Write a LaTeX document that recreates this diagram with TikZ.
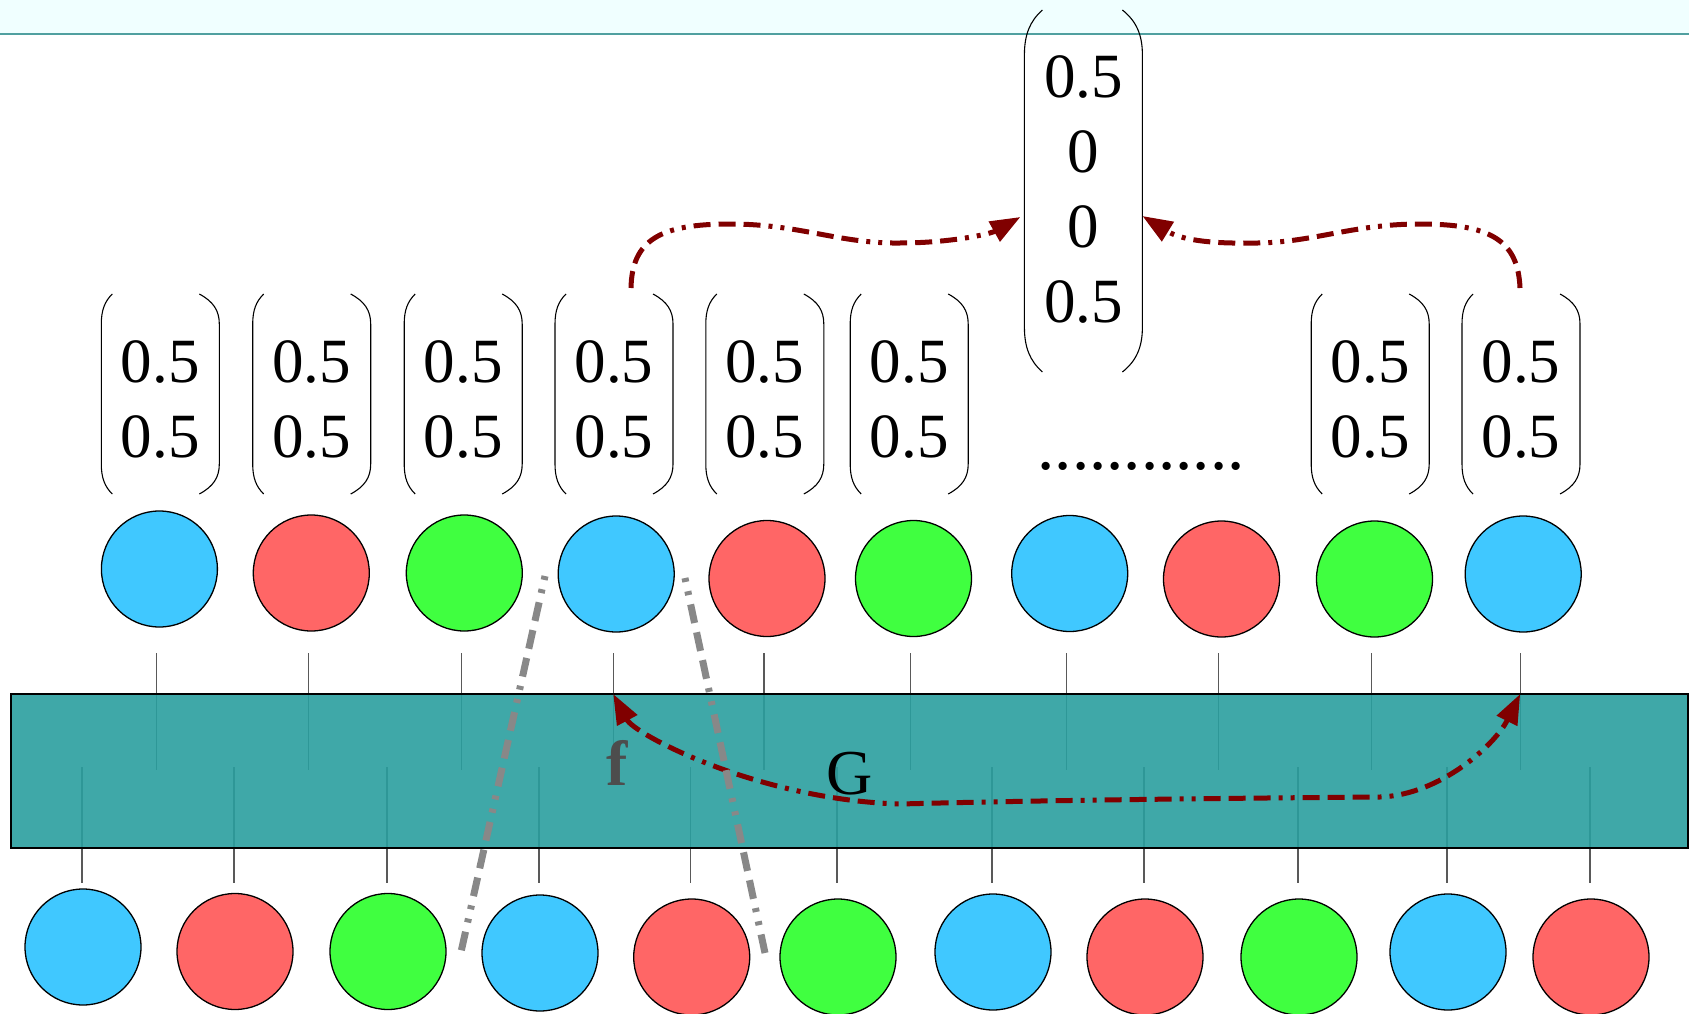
\documentclass[tikz,border=0pt]{standalone}
\usepackage{fontspec}
\setmainfont{Liberation Serif}
\usetikzlibrary{arrows.meta,calc}

\definecolor{cblue}{RGB}{64,200,255}
\definecolor{cred}{RGB}{255,102,102}
\definecolor{cgreen}{RGB}{64,255,64}
\definecolor{layerteal}{RGB}{42,158,158}
\definecolor{flowred}{RGB}{128,0,0}
\definecolor{crossgray}{RGB}{136,136,136}
\definecolor{bandfill}{RGB}{240,255,255}
\definecolor{bandline}{RGB}{80,160,160}
\definecolor{labgray}{RGB}{77,77,77}

\newcommand\numfont{\fontsize{63}{75}\selectfont}
\newcommand\labfont{\fontsize{64}{64}\selectfont}

% round brackets drawn along the left and right sides of a vector node
% #1 node, #2 left inset, #3 right inset, #4 height of the curved ends
\newcommand\bracketpair[4]{%
  \draw[paren] ($(#1.north west)+(#2,0)$)
      .. controls ($(#1.north west)+(0.3*#2,0.25*#4)$) and ($(#1.north west)+(0,0.55*#4)$) .. ($(#1.north west)+(0,#4)$)
      -- ($(#1.south west)+(0,-#4)$)
      .. controls ($(#1.south west)+(0,-0.55*#4)$) and ($(#1.south west)+(0.3*#2,-0.25*#4)$) .. ($(#1.south west)+(#2,0)$);
  \draw[paren] ($(#1.north east)+(-#3,0)$)
      .. controls ($(#1.north east)+(-0.3*#3,0.25*#4)$) and ($(#1.north east)+(0,0.55*#4)$) .. ($(#1.north east)+(0,#4)$)
      -- ($(#1.south east)+(0,-#4)$)
      .. controls ($(#1.south east)+(0,-0.55*#4)$) and ($(#1.south east)+(-0.3*#3,-0.25*#4)$) .. ($(#1.south east)+(-#3,0)$);
}

\tikzset{
  disc/.style={circle, draw=black, line width=1.3pt, minimum size=116pt, inner sep=0pt, outer sep=0pt},
  vecbox/.style={inner sep=0pt, outer sep=0pt, minimum width=118pt, align=center, font=\numfont},
  smallvec/.style={vecbox, minimum height=200pt, text height=127pt},
  paren/.style={line width=1.1pt, black},
  stub/.style={line width=1.3pt, black!65},
  flow/.style={draw=flowred, line width=5pt,
    dash pattern=on 17pt off 8pt on 17pt off 8pt on 17pt off 8pt on 4pt off 8pt on 4pt off 8pt},
  tip/.style={-{Triangle[length=30pt,width=22pt]}},
  tips/.style={{Triangle[length=30pt,width=22pt]}-{Triangle[length=30pt,width=22pt]}},
  cross/.style={draw=crossgray, line width=7pt,
    dash pattern=on 4pt off 9.5pt on 4pt off 9.5pt on 19pt off 9.5pt on 19pt off 9.5pt on 19pt off 9.5pt},
  layer/.style={rectangle, draw=black, line width=2pt, fill=layerteal, fill opacity=0.9,
    inner sep=0pt, outer sep=0pt, minimum width=1677pt, minimum height=154pt},
}

\begin{document}
\begin{tikzpicture}[x=1pt, y=-1pt]
\useasboundingbox (0,0) rectangle (1689,1014);

% header band
\fill[bandfill] (0,0) rectangle (1689,34);
\draw[bandline, line width=2pt] (0,34) -- (1689,34);

% upper row of discs
\node[disc, fill=cblue]  (t1)  at (159.4,569) {};
\node[disc, fill=cred]   (t2)  at (311.3,573) {};
\node[disc, fill=cgreen] (t3)  at (464.3,573) {};
\node[disc, fill=cblue]  (t4)  at (616.2,574) {};
\node[disc, fill=cred]   (t5)  at (767,578.5) {};
\node[disc, fill=cgreen] (t6)  at (913.5,578.5) {};
\node[disc, fill=cblue]  (t7)  at (1069.7,573.5) {};
\node[disc, fill=cred]   (t8)  at (1221.5,579) {};
\node[disc, fill=cgreen] (t9)  at (1374.5,579) {};
\node[disc, fill=cblue]  (t10) at (1523.2,574) {};

% lower row of discs
\node[disc, fill=cblue]  (b1)  at (83,947) {};
\node[disc, fill=cred]   (b2)  at (235,951.5) {};
\node[disc, fill=cgreen] (b3)  at (388,951.5) {};
\node[disc, fill=cblue]  (b4)  at (540,953) {};
\node[disc, fill=cred]   (b5)  at (691.7,957) {};
\node[disc, fill=cgreen] (b6)  at (838,957) {};
\node[disc, fill=cblue]  (b7)  at (993,952) {};
\node[disc, fill=cred]   (b8)  at (1145,957) {};
\node[disc, fill=cgreen] (b9)  at (1299,957) {};
\node[disc, fill=cblue]  (b10) at (1448,952) {};
\node[disc, fill=cred]   (b11) at (1591,957) {};

% two-entry vectors above the upper discs
\node[smallvec] (v1) at (160.3,394) {0.5\\0.5};
\node[smallvec] (v2) at (311.7,394) {0.5\\0.5};
\node[smallvec] (v3) at (463.2,394) {0.5\\0.5};
\node[smallvec] (v4) at (614,394)   {0.5\\0.5};
\node[smallvec] (v5) at (764.8,394) {0.5\\0.5};
\node[smallvec] (v6) at (909.2,394) {0.5\\0.5};
\node[smallvec] (v7) at (1370.2,394) {0.5\\0.5};
\node[smallvec] (v8) at (1521,394)  {0.5\\0.5};
\foreach \v in {v1,v2,v3,v4,v5,v6,v7,v8} {\bracketpair{\v}{11}{20}{30}}

\node[font=\fontsize{69}{69}\selectfont, anchor=base, inner sep=0pt] (dots) at (1141,469) {............};

% four-entry vector
\node[vecbox, minimum height=362pt, text height=264pt] (big) at (1083.4,191) {0.5\\0\\0\\0.5};
\bracketpair{big}{18}{20}{45}

% stubs reaching into the layer
\coordinate (upA) at (0,653);
\coordinate (upB) at (0,770);
\coordinate (loA) at (0,767);
\coordinate (loB) at (0,883);
\foreach \i in {1,...,10}
  \draw[stub] ($(t\i.center |- upA)+(-3,0)$) -- ($(t\i.center |- upB)+(-3,0)$);
\foreach \i in {1,...,11}
  \draw[stub] ($(b\i.center |- loA)+(-1,0)$) -- ($(b\i.center |- loB)+(-1,0)$);

% the layer
\node[layer] (box) at (849.4,771) {};

% labels inside the layer
\node[font=\labfont\bfseries, text=labgray, anchor=base, inner sep=0pt] (flab) at (617,785) {f};
\node[font=\labfont, anchor=base, inner sep=0pt] (glab) at (849.5,794) {G};

% arrows into the four-entry vector
\draw[flow, tip] ($(v4.north)+(17,-6)$)
  .. controls (632,240) and (660,224) .. (730,224)
  .. controls (800,224) and (840,244) .. (900,243)
  .. controls (950,243) and (990,234) .. ($(big.west)+(-4,26)$);
\draw[flow, tip] ($(v8.north)+(-1,-6)$)
  .. controls (1518,240) and (1490,224) .. (1420,224)
  .. controls (1350,224) and (1310,244) .. (1250,243)
  .. controls (1195,244) and (1175,236) .. ($(big.east)+(0,25)$);

% two-headed arrow across the layer
\draw[flow, tips]
  ($(t4.center |- box.north)+(-3,0)$)
  .. controls (635,735) and (760,800) .. (900,804)
  .. controls (1050,800) and (1250,798) .. (1380,797)
  .. controls (1440,795) and (1495,745) .. ($(t10.center |- box.north)+(-3,0)$);

% crossing lines
\coordinate (g1a) at (545,576);
\coordinate (g1b) at (461,952);
\coordinate (g2a) at (685,578);
\coordinate (g2b) at (765,953);
\draw[cross] (g1a) -- (g1b);
\draw[cross] (g2a) -- (g2b);
\end{tikzpicture}
\end{document}
